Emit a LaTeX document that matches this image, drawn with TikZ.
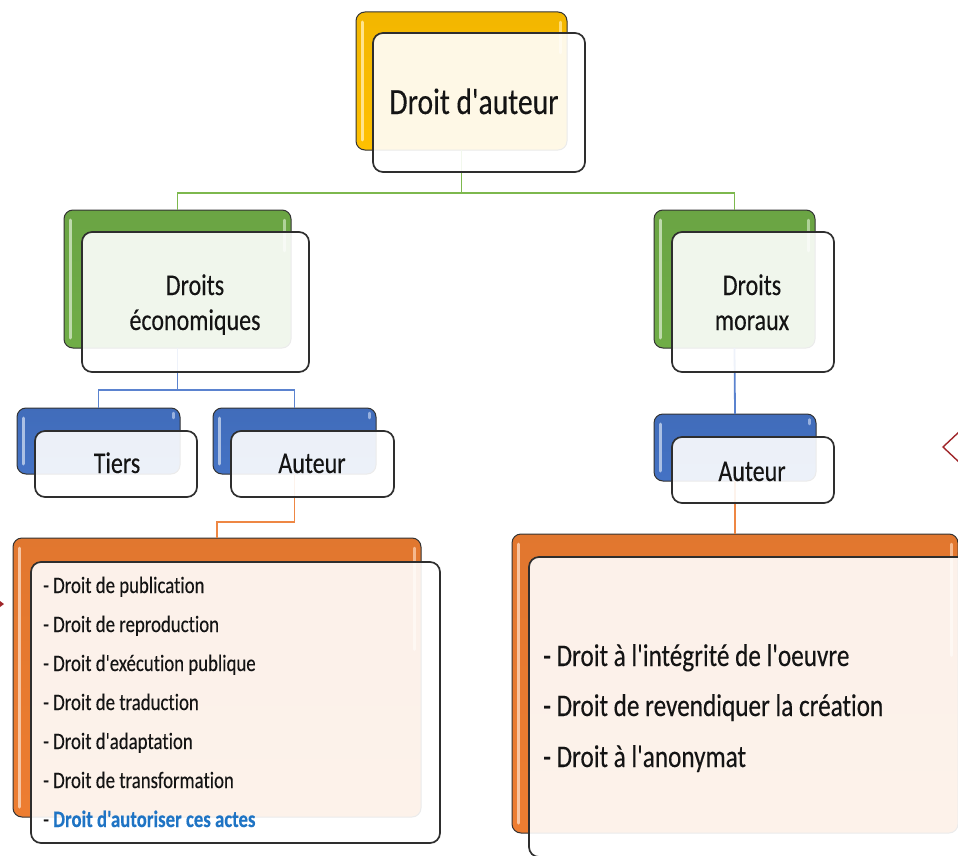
\documentclass[tikz,border=0pt]{standalone}
\usepackage{fontspec}
\setmainfont{Carlito}[FakeStretch=0.8, FakeBold=0.25, Ligatures={TeXOff,NoCommon}]
\definecolor{cyel}{HTML}{FFC000}
\definecolor{cgreen}{HTML}{70AD47}
\definecolor{cblue}{HTML}{4472C4}
\definecolor{corange}{HTML}{ED7D31}
\definecolor{lgreen}{HTML}{7DB84E}
\definecolor{lblue}{HTML}{5B83CF}
\definecolor{lorange}{HTML}{EE8744}
\definecolor{ctext}{HTML}{141414}
\definecolor{cbluetext}{HTML}{1F74C4}
\definecolor{darkred}{HTML}{A0262A}
\begin{document}
\begin{tikzpicture}[x=1pt,y=-1pt,
  backbox/.style={top color=#1!95!black, bottom color=#1, draw=black!80, line width=1pt,
    rounded corners=9pt, inner sep=0pt, outer sep=0pt, anchor=north west,
    path picture={
      \draw[#1!45!white, line width=3pt, line cap=round]
        ([xshift=6.5pt,yshift=-10pt]path picture bounding box.north west) --
        ([xshift=6.5pt,yshift=10pt]path picture bounding box.south west);
      \draw[#1!55!white, line width=2.5pt, line cap=round]
        ([xshift=-6.5pt,yshift=-10pt]path picture bounding box.north east) --
        ([xshift=-6.5pt,yshift=28pt]path picture bounding box.east);
    }},
  frontbox/.style={draw=black!82, line width=1.7pt, rounded corners=10pt, fill=white,
    fill opacity=0.9, draw opacity=1, inner sep=0pt, outer sep=0pt, anchor=north west},
  conn/.style={line width=1.8pt, draw=#1},
  lbl/.style={inner sep=0pt, anchor=base, text=ctext},
  item/.style={inner sep=0pt, anchor=base west, text=ctext},
]
\useasboundingbox (0,0) rectangle (958,856);
\clip (0,0) rectangle (958,856);
\fill[white] (0,0) rectangle (958,856);

% back boxes
\node[backbox=cyel, minimum width=211pt, minimum height=138pt] (topb) at (356,12) {};
\node[backbox=cgreen, minimum width=227pt, minimum height=138pt] (glb) at (64,210) {};
\node[backbox=cgreen, minimum width=161pt, minimum height=138pt] (grb) at (654,210) {};
\node[backbox=cblue, minimum width=163pt, minimum height=66pt] (tib) at (17,408) {};
\node[backbox=cblue, minimum width=163pt, minimum height=66pt] (alb) at (213,408) {};
\node[backbox=cblue, minimum width=162pt, minimum height=67pt] (arb) at (654,414) {};
\node[backbox=corange, minimum width=408pt, minimum height=279pt] (olb) at (13,538) {};
\node[backbox=corange, minimum width=446pt, minimum height=299pt] (orb) at (512,534) {};

% connectors
\draw[conn=lgreen] (topb.south) -- ++(0,43) -| (glb.north);
\draw[conn=lgreen] (topb.south) -- ++(0,43) -| (grb.north);
\draw[conn=lblue] (glb.south) -- ++(0,42) -| (tib.north);
\draw[conn=lblue] (glb.south) -- ++(0,42) -| (alb.north);
\draw[conn=lblue] (grb.south) -- (arb.north);
\draw[conn=lorange] (alb.south) -- ++(0,48) -| (olb.north);
\draw[conn=lorange] (arb.south) -- (orb.north);

% front boxes
\node[frontbox, minimum width=212pt, minimum height=139pt] (topf) at (373,33) {};
\node[frontbox, minimum width=227pt, minimum height=140pt] (glf) at (82,232) {};
\node[frontbox, minimum width=162pt, minimum height=140pt] (grf) at (672,232) {};
\node[frontbox, minimum width=162pt, minimum height=66pt] (tif) at (35,431) {};
\node[frontbox, minimum width=163pt, minimum height=66pt] (alf) at (231,431) {};
\node[frontbox, minimum width=162pt, minimum height=66pt] (arf) at (672,437) {};
\node[frontbox, minimum width=409pt, minimum height=281pt] (olf) at (31,562) {};
\node[frontbox, minimum width=460pt, minimum height=300pt] (orf) at (529,557) {};

% labels
\node[lbl, font=\fontsize{37}{40}\selectfont] (t0) at (474,114) {Droit d'auteur};
\node[lbl, font=\fontsize{30}{34}\selectfont] (t1) at (195,295) {Droits};
\node[lbl, font=\fontsize{30}{34}\selectfont] (t2) at (195,330) {économiques};
\node[lbl, font=\fontsize{30}{34}\selectfont] (t3) at (752,295) {Droits};
\node[lbl, font=\fontsize{30}{34}\selectfont] (t4) at (752,330) {moraux};
\node[lbl, font=\fontsize{30}{34}\selectfont] (t5) at (117,473) {Tiers};
\node[lbl, font=\fontsize{30}{34}\selectfont] (t6) at (312,473) {Auteur};
\node[lbl, font=\fontsize{30}{34}\selectfont] (t7) at (752,481) {Auteur};

\begin{scope}[every node/.style={item, font=\fontsize{23.5}{26}\selectfont}]
\node (a1) at (43,593) {- Droit de publication};
\node (a2) at (43,632) {- Droit de reproduction};
\node (a3) at (43,671) {- Droit d'exécution publique};
\node (a4) at (43,710) {- Droit de traduction};
\node (a5) at (43,749) {- Droit d'adaptation};
\node (a6) at (43,788) {- Droit de transformation};
\node (a7) at (43,827) {- \textcolor{cbluetext}{\bfseries Droit d'autoriser ces actes}};
\end{scope}
\begin{scope}[every node/.style={item, font=\fontsize{31.5}{34}\selectfont}]
\node (b1) at (543,666) {- Droit à l'intégrité de l'oeuvre};
\node (b2) at (543,716) {- Droit de revendiquer la création};
\node (b3) at (543,767) {- Droit à l'anonymat};
\end{scope}

% small marks at the edges
\fill[darkred] (0,601) -- (4,604) -- (0,607) -- cycle;
\draw[darkred, line width=1.4pt] (960,431) -- (943,447) -- (960,463);
\end{tikzpicture}
\end{document}
